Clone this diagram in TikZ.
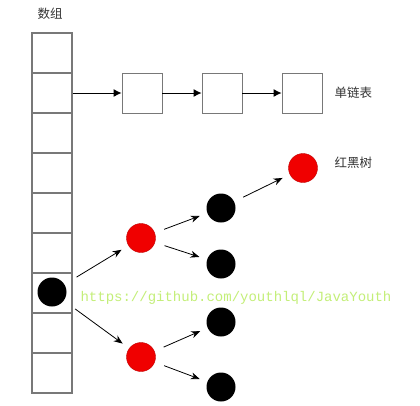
\documentclass[tikz,border=0pt]{standalone}
\usepackage{fontspec}
\setmonofont{Liberation Mono}
\newfontfamily\cjk{Noto Sans CJK SC}
\usepackage{tikz}
\usetikzlibrary{
  arrows.meta,
  positioning
}
\definecolor{BoxGray}{RGB}{120, 120, 120}
\definecolor{TreeRed}{RGB}{240, 0, 0}
\definecolor{MarkGreen}{RGB}{195, 238, 120}
\tikzset{
    cellbox/.style={rectangle, draw=BoxGray, line width=1.1pt, minimum size=40pt, inner sep=0pt},
    listbox/.style={rectangle, draw=BoxGray, line width=0.9pt, minimum size=40pt, inner sep=0pt},
    blacknode/.style={circle, fill=black, minimum size=29pt, inner sep=0pt},
    rednode/.style={circle, fill=TreeRed, draw=TreeRed!80!black, line width=0.4pt, minimum size=29pt, inner sep=0pt},
    listarrow/.style={-{Latex[length=8pt, width=8pt]}, line width=0.9pt},
    treearrow/.style={-{Stealth[length=9pt, width=7pt]}, line width=0.8pt, shorten <=10pt, shorten >=8pt},
    label text/.style={font=\cjk\fontsize{12.5}{14}\selectfont, text=black!80}
}

\begin{document}
\begin{tikzpicture}[x=1pt, y=-1pt]
    \useasboundingbox (0,0) rectangle (420,405);
    \node[label text] (arraylabel) at (50,14) {数组};
    \foreach \i in {1,...,9} {
        \node[cellbox] (cell\i) at (52,{13+40*\i}) {};
    }
    \node[listbox] (list1) at (142,93) {};
    \node[listbox] (list2) at (222,93) {};
    \node[listbox] (list3) at (302,93) {};
    \node[label text, anchor=west] (listlabel) at (331,93) {单链表};
    \draw[listarrow] (cell2.east) -- (list1.west);
    \draw[listarrow] (list1.east) -- (list2.west);
    \draw[listarrow] (list2.east) -- (list3.west);

    \node[blacknode] (root) at (52,292) {};
    \node[rednode] (redA) at (141,238) {};
    \node[rednode] (redB) at (141,357) {};
    \node[blacknode] (blackA) at (221,208) {};
    \node[blacknode] (blackB) at (221,264) {};
    \node[blacknode] (blackC) at (221,322) {};
    \node[blacknode] (blackD) at (221,387) {};
    \node[rednode] (redTop) at (303,168) {};
    \node[label text, anchor=west] (treelabel) at (331,163) {红黑树};
    \draw[treearrow, shorten <=14pt] (root) -- (redA);
    \draw[treearrow, shorten <=14pt] (root) -- (redB);
    \draw[treearrow] (redA) -- (blackA);
    \draw[treearrow] (redA) -- (blackB);
    \draw[treearrow] (redB) -- (blackC);
    \draw[treearrow] (redB) -- (blackD);
    \draw[treearrow] (blackA) -- (redTop);

    \node[font=\ttfamily\fontsize{14}{16}\selectfont, text=MarkGreen] (watermark) at (236,298) {https://github.com/youthlql/JavaYouth};
\end{tikzpicture}
\end{document}
